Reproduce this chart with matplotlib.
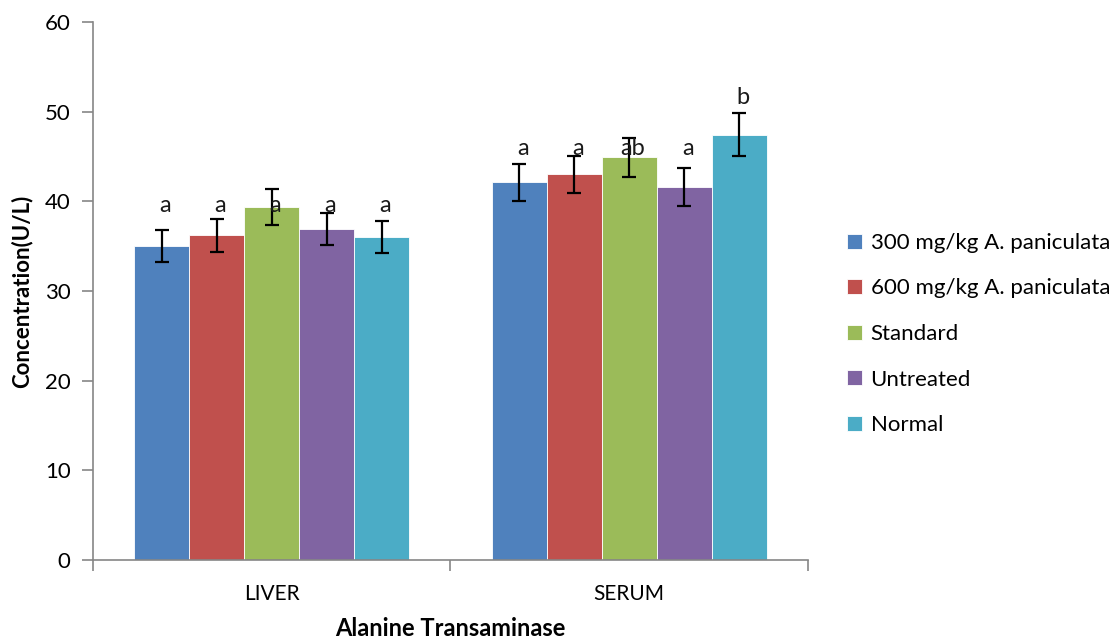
import matplotlib
matplotlib.use("Agg")
import matplotlib.pyplot as plt
import numpy as np

categories = ["LIVER", "SERUM"]
series = ["300 mg/kg A. paniculata", "600 mg/kg A. paniculata", "Standard", "Untreated", "Normal"]
values_300 = [35.0, 42.1]
values_600 = [36.2, 43.0]
values_std = [39.4, 44.9]
values_untr = [36.9, 41.6]
values_norm = [36.0, 47.4]
err_300 = [1.8, 2.1]
err_600 = [1.8, 2.1]
err_std = [2.0, 2.2]
err_untr = [1.8, 2.1]
err_norm = [1.8, 2.4]
letters_liver = ["a", "a", "a", "a", "a"]
letters_serum = ["a", "a", "ab", "a", "b"]
letter_y_liver = [38.4, 38.4, 38.4, 38.4, 38.4]
letter_y_serum = [44.7, 44.7, 44.7, 44.7, 50.4]
yticks = [0, 10, 20, 30, 40, 50, 60]

colors = ["#4F81BD", "#C0504D", "#9BBB59", "#8064A2", "#4BACC6"]
plt.rcParams['font.family'] = ['Lato', 'DejaVu Sans']

fig = plt.figure(figsize=(11.2, 6.41), dpi=100)
ax = fig.add_axes([0.083, 0.1264, 0.6384, 0.8393])

vals = [values_300, values_600, values_std, values_untr, values_norm]
errs = [err_300, err_600, err_std, err_untr, err_norm]
x = np.arange(len(categories))
group = 1 / 1.3
w = group / len(series)
for i, (v, e, c, s) in enumerate(zip(vals, errs, colors, series)):
    pos = x - group / 2 + w * (i + 0.5)
    ax.bar(pos, v, width=w, color=c, label=s, edgecolor='white', linewidth=0.6, zorder=2)
    ax.errorbar(pos, v, yerr=e, fmt='none', ecolor='black', elinewidth=1.6, capsize=5, capthick=1.6, zorder=3)
    ax.text(pos[0] + 0.01, letter_y_liver[i], letters_liver[i], ha='center', va='bottom', fontsize=17, color='#1a1a1a', zorder=4)
    ax.text(pos[1] + 0.01, letter_y_serum[i], letters_serum[i], ha='center', va='bottom', fontsize=17, color='#1a1a1a', zorder=4)

ax.set_xlim(-0.5, 1.5)
ax.set_ylim(0, 60)
ax.set_yticks(yticks)
ax.set_yticklabels([str(t) for t in yticks], fontsize=16)
ax.set_xticks([-0.5, 0.5, 1.5])
ax.set_xticklabels([])
ax.set_xticks(x, minor=True)
ax.set_xticklabels(categories, minor=True, fontsize=15)
ax.tick_params(axis='x', which='minor', length=0, pad=17)
ax.tick_params(axis='x', which='major', length=8, direction='out', color='#868686', width=1.2)
ax.tick_params(axis='y', length=8, direction='out', color='#868686', width=1.2, pad=8)
for sp in ['top', 'right']:
    ax.spines[sp].set_visible(False)
for sp in ['left', 'bottom']:
    ax.spines[sp].set_color('#868686')
    ax.spines[sp].set_linewidth(1.2)

ax.set_ylabel("Concentration(U/L)", fontsize=16, fontweight='bold', labelpad=9)
ax.set_xlabel("Alanine Transaminase", fontsize=17, fontweight='bold', labelpad=10)

leg = ax.legend(loc='center left', bbox_to_anchor=(1.027, 0.42), frameon=False, fontsize=16,
                handlelength=0.65, handleheight=0.65, handletextpad=0.4, labelspacing=1.15)

fig.savefig("out.png", dpi=100)
